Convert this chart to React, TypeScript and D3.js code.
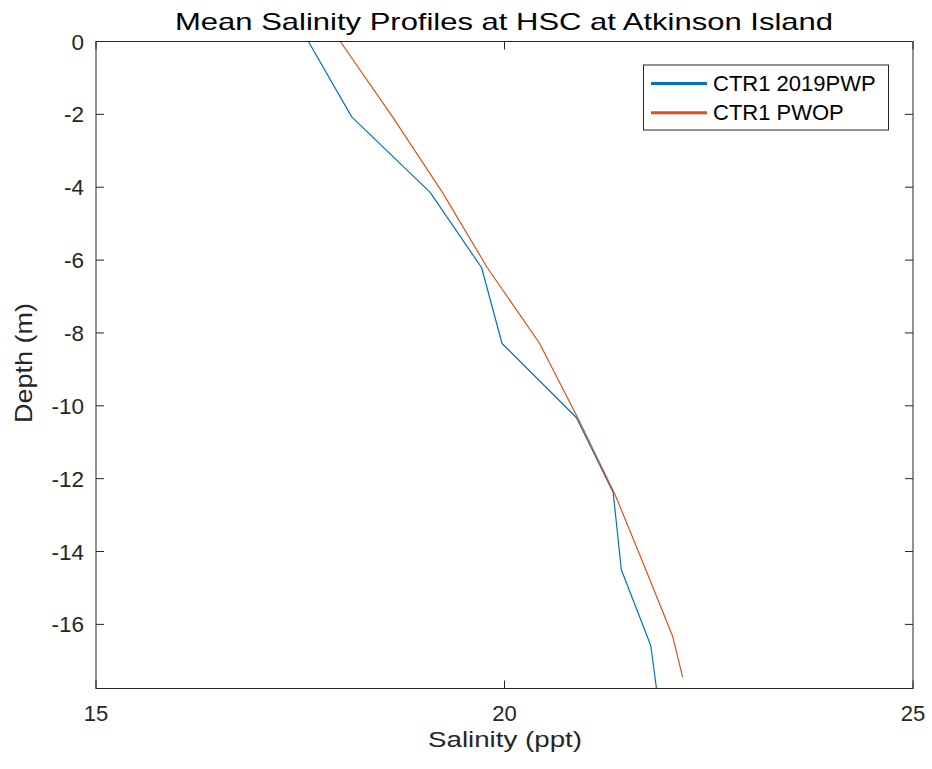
import React from "react";
import * as d3 from "d3";

const title = "Mean Salinity Profiles at HSC at Atkinson Island";
const xLabel = "Salinity (ppt)";
const yLabel = "Depth (m)";

const seriesNames = ["CTR1 2019PWP", "CTR1 PWOP"];
const seriesColors = ["#0072BD", "#D95319"];

const depthBlue = [0, -2.07, -4.14, -6.21, -8.29, -10.32, -12.38, -14.5, -16.58, -17.76];
const salBlue = [17.6, 18.13, 19.09, 19.72, 19.97, 20.88, 21.33, 21.43, 21.79, 21.86];

const depthOrange = [0, -2.07, -4.14, -6.21, -8.29, -10.35, -12.42, -14.5, -16.34, -17.45];
const salOrange = [17.99, 18.63, 19.24, 19.79, 20.43, 20.9, 21.35, 21.73, 22.06, 22.18];

const xTicks = [15, 20, 25];
const yTicks = [0, -2, -4, -6, -8, -10, -12, -14, -16];
const xDomain = [15, 25];
const yDomain = [-17.76, 0];

const W = 932;
const H = 769;
const M = { left: 96, top: 41.5, right: 913, bottom: 688.5 };
const FONT = "'Liberation Sans', Arial, Helvetica, sans-serif";
const AX = "#262626";

export default function App() {
  const x = d3.scaleLinear().domain(xDomain).range([M.left, M.right]);
  const y = d3.scaleLinear().domain(yDomain).range([M.bottom, M.top]);
  const line = d3
    .line<[number, number]>()
    .x((d) => x(d[0]))
    .y((d) => y(d[1]));
  const series = [
    salBlue.map((s, i) => [s, depthBlue[i]] as [number, number]),
    salOrange.map((s, i) => [s, depthOrange[i]] as [number, number]),
  ];
  const tickLen = 8;
  return (
    <svg
      width={W}
      height={H}
      style={{ position: "absolute", left: 0, top: 0, background: "#fff" }}
      fontFamily={FONT}
    >
      <rect x={0} y={0} width={W} height={H} fill="#fff" />
      <defs>
        <clipPath id="plotclip">
          <rect x={M.left} y={M.top} width={M.right - M.left} height={M.bottom - M.top} />
        </clipPath>
      </defs>
      {/* data lines */}
      <g clipPath="url(#plotclip)">
        {series.map((d, i) => (
          <path
            key={i}
            d={line(d) || ""}
            fill="none"
            stroke={seriesColors[i]}
            strokeWidth={1.2}
            strokeLinejoin="round"
          />
        ))}
      </g>
      {/* frame */}
      <rect
        x={M.left}
        y={M.top}
        width={M.right - M.left}
        height={M.bottom - M.top}
        fill="none"
        stroke={AX}
        strokeWidth={1}
      />
      {/* x ticks */}
      {xTicks.map((t) => (
        <g key={"x" + t}>
          <line x1={x(t)} x2={x(t)} y1={M.bottom} y2={M.bottom - tickLen} stroke={AX} />
          <line x1={x(t)} x2={x(t)} y1={M.top} y2={M.top + tickLen} stroke={AX} />
          <text x={x(t)} y={721} textAnchor="middle" fontSize={22} fill={AX}>
            {t}
          </text>
        </g>
      ))}
      {/* y ticks */}
      {yTicks.map((t) => (
        <g key={"y" + t}>
          <line x1={M.left} x2={M.left + tickLen} y1={y(t)} y2={y(t)} stroke={AX} />
          <line x1={M.right} x2={M.right - tickLen} y1={y(t)} y2={y(t)} stroke={AX} />
          <text
            x={84}
            y={y(t)}
            dy="0.36em"
            textAnchor="end"
            fontSize={22.5}
            fill={AX}
          >
            {t}
          </text>
        </g>
      ))}
      {/* title */}
      <text
        x={504}
        y={29.5}
        textAnchor="middle"
        fontSize={24}
        fill="#000"
        textLength={658}
        lengthAdjust="spacingAndGlyphs"
      >
        {title}
      </text>
      {/* x label */}
      <text
        x={505}
        y={746.5}
        textAnchor="middle"
        fontSize={22.5}
        fill={AX}
        textLength={154}
        lengthAdjust="spacingAndGlyphs"
      >
        {xLabel}
      </text>
      {/* y label */}
      <text
        transform={`translate(31.7, 363) rotate(-90)`}
        textAnchor="middle"
        fontSize={24.5}
        fill={AX}
        textLength={120}
        lengthAdjust="spacingAndGlyphs"
      >
        {yLabel}
      </text>
      {/* legend */}
      <g>
        <rect x={643.5} y={65} width={245} height={65} fill="#fff" stroke={AX} strokeWidth={1} />
        {seriesNames.map((n, i) => (
          <g key={n}>
            <line
              x1={651}
              x2={707}
              y1={83.5 + i * 29.3}
              y2={83.5 + i * 29.3}
              stroke={seriesColors[i]}
              strokeWidth={3}
            />
            <text x={713} y={90.5 + i * 29} fontSize={22} fill="#000">
              {n}
            </text>
          </g>
        ))}
      </g>
    </svg>
  );
}
